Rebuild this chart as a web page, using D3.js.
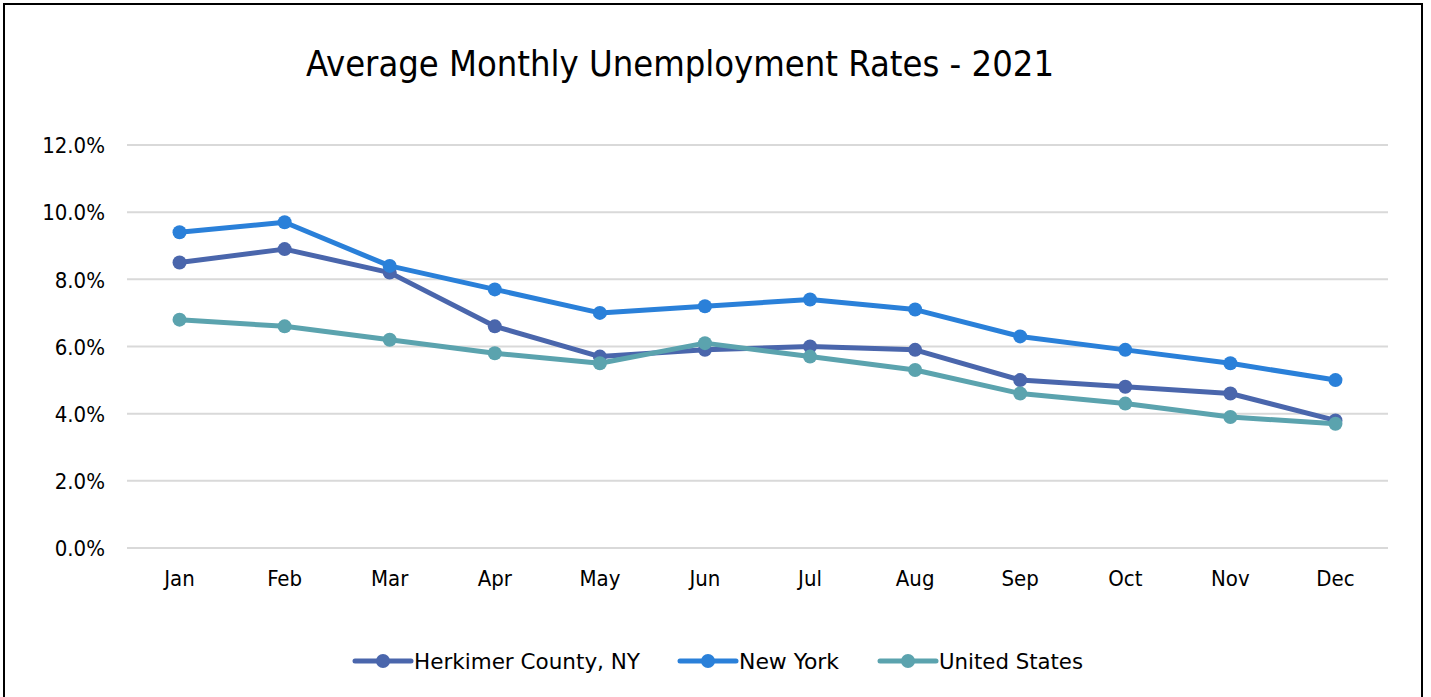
<!DOCTYPE html>
<html>
<head>
<meta charset="utf-8">
<script src="https://cdn.jsdelivr.net/npm/d3@7"></script>
<style>
  html, body { margin: 0; padding: 0; background: #fff; }
  svg { display: block; font-family: "DejaVu Sans Condensed", "DejaVu Sans", sans-serif; }
</style>
</head>
<body>
<div id="chart"></div>
<script>
// data
var months = ["Jan", "Feb", "Mar", "Apr", "May", "Jun", "Jul", "Aug", "Sep", "Oct", "Nov", "Dec"];
var herkimer = [8.5, 8.9, 8.2, 6.6, 5.7, 5.9, 6.0, 5.9, 5.0, 4.8, 4.6, 3.8];
var newYork = [9.4, 9.7, 8.4, 7.7, 7.0, 7.2, 7.4, 7.1, 6.3, 5.9, 5.5, 5.0];
var unitedStates = [6.8, 6.6, 6.2, 5.8, 5.5, 6.1, 5.7, 5.3, 4.6, 4.3, 3.9, 3.7];
var yTicks = [0, 2, 4, 6, 8, 10, 12];
var seriesNames = ["Herkimer County, NY", "New York", "United States"];
var seriesColors = ["#4a66ac", "#2a80d9", "#5ba3ae"];

var width = 1431, height = 697;
var plotLeft = 127, plotRight = 1388, plotTop = 145, plotBottom = 548;
var fontFam = '"DejaVu Sans Condensed", "DejaVu Sans", sans-serif';

var svg = d3.select("#chart").append("svg")
  .attr("width", width)
  .attr("height", height);

// outer frame
svg.append("rect")
  .attr("x", 4).attr("y", 4)
  .attr("width", 1418).attr("height", 720)
  .attr("fill", "#fff")
  .attr("stroke", "#000")
  .attr("stroke-width", 2);

var x = d3.scaleBand().domain(months).range([plotLeft, plotRight]);
var y = d3.scaleLinear().domain([0, 12]).range([plotBottom, plotTop]);

// gridlines
svg.append("g").selectAll("line").data(yTicks).enter()
  .append("line")
  .attr("x1", plotLeft).attr("x2", plotRight)
  .attr("y1", d => y(d)).attr("y2", d => y(d))
  .attr("stroke", "#d9d9d9")
  .attr("stroke-width", 2);

// y axis labels
var yAxis = d3.axisLeft(y).tickValues(yTicks).tickSize(0).tickPadding(0)
  .tickFormat(d => d.toFixed(1) + "%");
var yg = svg.append("g").attr("transform", "translate(105,0)").call(yAxis)
  .attr("font-family", fontFam).attr("font-size", 22);
yg.select(".domain").remove();
yg.selectAll("text").attr("fill", "#000").attr("dy", "0.35em");

// x axis labels
var xAxis = d3.axisBottom(x).tickSize(0).tickPadding(0);
var xg = svg.append("g").attr("transform", "translate(0,586)").call(xAxis)
  .attr("font-family", fontFam).attr("font-size", 22);
xg.select(".domain").remove();
xg.selectAll("text").attr("fill", "#000").attr("dy", "0");

// series
var series = [herkimer, newYork, unitedStates];
var line = d3.line()
  .x((d, i) => x(months[i]) + x.bandwidth() / 2)
  .y(d => y(d));

series.forEach((vals, si) => {
  var g = svg.append("g").attr("class", "series s" + si);
  g.append("path")
    .datum(vals)
    .attr("d", line)
    .attr("fill", "none")
    .attr("stroke", seriesColors[si])
    .attr("stroke-width", 5)
    .attr("stroke-linejoin", "round");
  g.selectAll("circle").data(vals).enter()
    .append("circle")
    .attr("cx", (d, i) => x(months[i]) + x.bandwidth() / 2)
    .attr("cy", d => y(d))
    .attr("r", 7)
    .attr("fill", seriesColors[si]);
});

// title
svg.append("text")
  .attr("x", 680).attr("y", 76)
  .attr("text-anchor", "middle")
  .attr("font-size", 36)
  .attr("fill", "#000")
  .text("Average Monthly Unemployment Rates - 2021");

// legend
var legendX = [355, 680, 880];
var legendW = [226, 100, 144];
var legend = svg.append("g").selectAll("g").data(seriesNames).enter()
  .append("g")
  .attr("transform", (d, i) => `translate(${legendX[i]}, 661)`);
legend.append("line")
  .attr("x1", 0).attr("x2", 56).attr("y1", 0).attr("y2", 0)
  .attr("stroke", (d, i) => seriesColors[i])
  .attr("stroke-width", 5)
  .attr("stroke-linecap", "round");
legend.append("circle")
  .attr("cx", 28).attr("cy", 0).attr("r", 7)
  .attr("fill", (d, i) => seriesColors[i]);
legend.append("text")
  .attr("x", 59).attr("y", 0).attr("dy", "0.35em")
  .attr("font-size", 22)
  .attr("fill", "#000")
  .attr("textLength", (d, i) => legendW[i])
  .attr("lengthAdjust", "spacingAndGlyphs")
  .text(d => d);
</script>
</body>
</html>
